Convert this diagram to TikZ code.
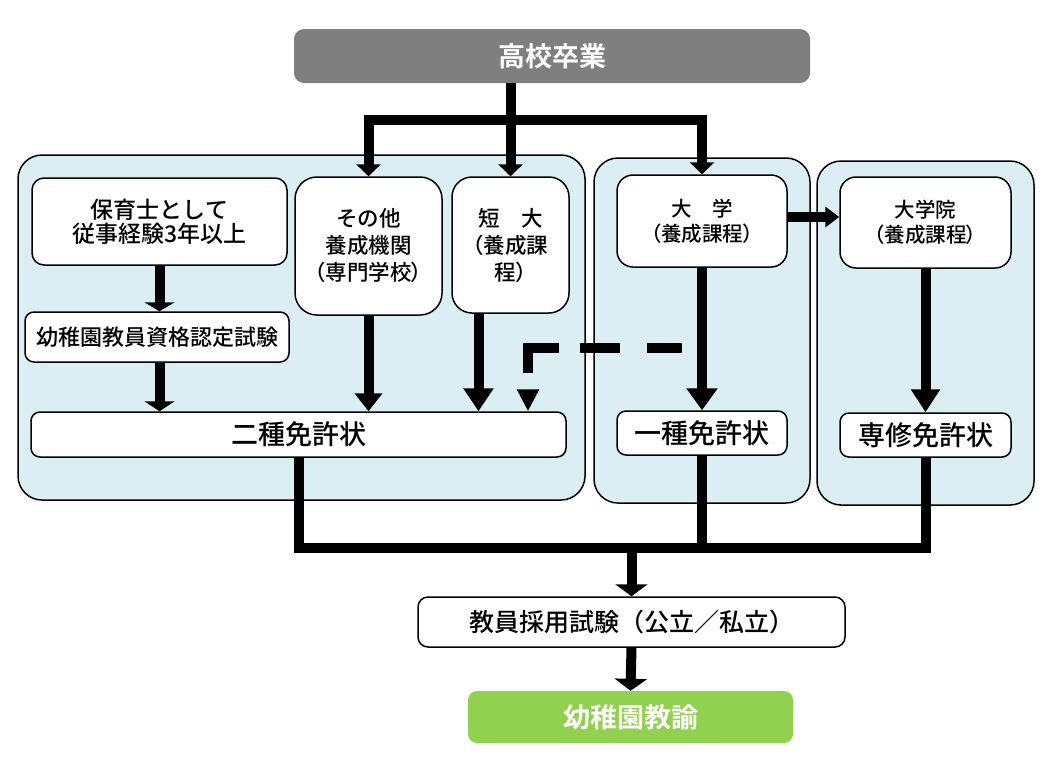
\documentclass[tikz,border=0pt]{standalone}
\usepackage{fontspec}
\setmainfont{Noto Sans CJK JP}[UprightFont={* Medium}, BoldFont={* Bold}]
\usetikzlibrary{arrows.meta}
\definecolor{panel}{HTML}{DAEEF3}
\definecolor{topgray}{HTML}{7F7F7F}
\definecolor{leafgreen}{HTML}{92D050}
\newcommand\nlp{{\addfontfeatures{RawFeature=+palt}（}}
\newcommand\nrp{{\addfontfeatures{RawFeature=+palt}）}}
\begin{document}
\begin{tikzpicture}[x=1pt,y=-1pt,
  panelbox/.style={draw=black, line width=1.5pt, fill=panel, rounded corners=24pt, inner sep=0pt},
  wbox/.style={draw=black, line width=1.5pt, fill=white, rounded corners=12pt, inner sep=0pt, align=center},
  conn/.style={line width=10pt, draw=black},
  hd/.style 2 args={-{Triangle[width=#1,length=#2]}},
  fsz/.style 2 args={font=\fontsize{#1}{#2}\selectfont}
]
\useasboundingbox (0,0) rectangle (1060,761);

% panels
\node[panelbox, minimum width=567pt, minimum height=345pt] (panelL) at (301.5,327.5) {};
\node[panelbox, minimum width=216pt, minimum height=345pt] (panelM) at (702,330.5) {};
\node[panelbox, minimum width=217pt, minimum height=344pt] (panelR) at (925.5,333) {};

% top
\node[fill=topgray, rounded corners=10pt, minimum width=516pt, minimum height=54pt, inner sep=0pt, text=white, fsz={27}{30}] (top) at (552,56) {\bfseries 高校卒業};

% boxes
\node[wbox, minimum width=255pt, minimum height=87pt, fsz={23}{24}] (hoiku) at (159.5,221.5) {保育士として\\従事経験3年以上};
\node[wbox, minimum width=264pt, minimum height=50pt, rounded corners=9pt, fsz={22}{24}] (nintei) at (157,337) {幼稚園教員資格認定試験};
\node[wbox, minimum width=147pt, minimum height=138pt, rounded corners=22pt, fsz={21.5}{27}] (sonota) at (368.5,246) {その他\\養成機関\\\nlp 専門学校\nrp};
\node[wbox, minimum width=117pt, minimum height=136pt, rounded corners=20pt, fsz={21.5}{27}] (tandai) at (510.5,245) {短　大\\\nlp 養成課\\程\nrp};
\node[wbox, minimum width=535pt, minimum height=45pt, rounded corners=9pt, fsz={27}{28}] (nishu) at (298.5,434.5) {二種免許状};
\node[wbox, minimum width=170pt, minimum height=92pt, rounded corners=16pt, fsz={20.5}{25}] (daigaku) at (702,221) {大　学\\\nlp 養成課程\nrp};
\node[wbox, minimum width=171pt, minimum height=91pt, rounded corners=16pt, fsz={20.5}{25}] (daigakuin) at (925.5,222.5) {大学院\\\nlp 養成課程\nrp};
\node[wbox, minimum width=170pt, minimum height=44pt, rounded corners=9pt, fsz={27}{29}] (isshu) at (702,433) {一種免許状};
\node[wbox, minimum width=171pt, minimum height=44pt, rounded corners=9pt, fsz={27}{29}] (senshu) at (925.5,435) {専修免許状};
\node[wbox, minimum width=427pt, minimum height=50pt, rounded corners=10pt, fsz={25}{28}] (saiyo) at (631.5,622) {教員採用試験（公立／私立）};
\node[fill=leafgreen, rounded corners=9pt, minimum width=325pt, minimum height=52pt, inner sep=0pt, text=white, fsz={27}{30}] (kyoyu) at (630.5,717) {\bfseries 幼稚園教諭};

% top distribution
\coordinate (j) at (510.5,120);
\draw[conn, line cap=rect] (sonota.north |- j) -- (daigaku.north |- j);
\draw[conn, hd={24pt}{12pt}] (top.south -| tandai.north) -- (tandai.north);
\draw[conn, hd={24pt}{12pt}] (sonota.north |- j) -- (sonota.north);
\draw[conn, hd={24pt}{12pt}] (daigaku.north |- j) -- (daigaku.north);

% left panel
\draw[conn, hd={30pt}{9pt}] (hoiku.south) -- (hoiku.south |- nintei.north);
\draw[conn, hd={30pt}{10pt}] (hoiku.south |- nintei.south) -- (hoiku.south |- nishu.north);
\draw[conn, hd={27pt}{18pt}] (sonota.south) -- (sonota.south |- nishu.north);
\draw[conn, hd={29pt}{23pt}] ([xshift=-32pt]tandai.south) -- ([xshift=-32pt]tandai.south |- nishu.north);

% dashed route
\coordinate (ds) at (682,348);
\coordinate (dc) at (528,348);
\draw[conn, dash pattern=on 35pt off 27pt on 40pt off 21pt on 56pt off 40pt, hd={21pt}{22pt}] (ds) -- (dc) -- (dc |- nishu.north);

% middle and right panels
\draw[conn, hd={30pt}{22pt}] (daigaku.south) -- (isshu.north);
\draw[conn, hd={28pt}{23pt}] (daigakuin.south) -- (senshu.north);
\draw[conn, hd={20pt}{14pt}] ([yshift=4pt]daigaku.east) -- ([yshift=4pt]daigaku.east -| daigakuin.west);

% bottom collection
\coordinate (b) at (630,548);
\draw[conn] (nishu.south) -- (nishu.south |- b);
\draw[conn] (isshu.south) -- (isshu.south |- b);
\draw[conn] (senshu.south) -- (senshu.south |- b);
\draw[conn, line cap=rect] (nishu.south |- b) -- (senshu.south |- b);
\draw[conn, hd={32pt}{12pt}] (saiyo.north |- b) -- (saiyo.north);
\draw[conn, hd={32pt}{12pt}] (saiyo.south) -- (kyoyu.north);
\end{tikzpicture}
\end{document}
